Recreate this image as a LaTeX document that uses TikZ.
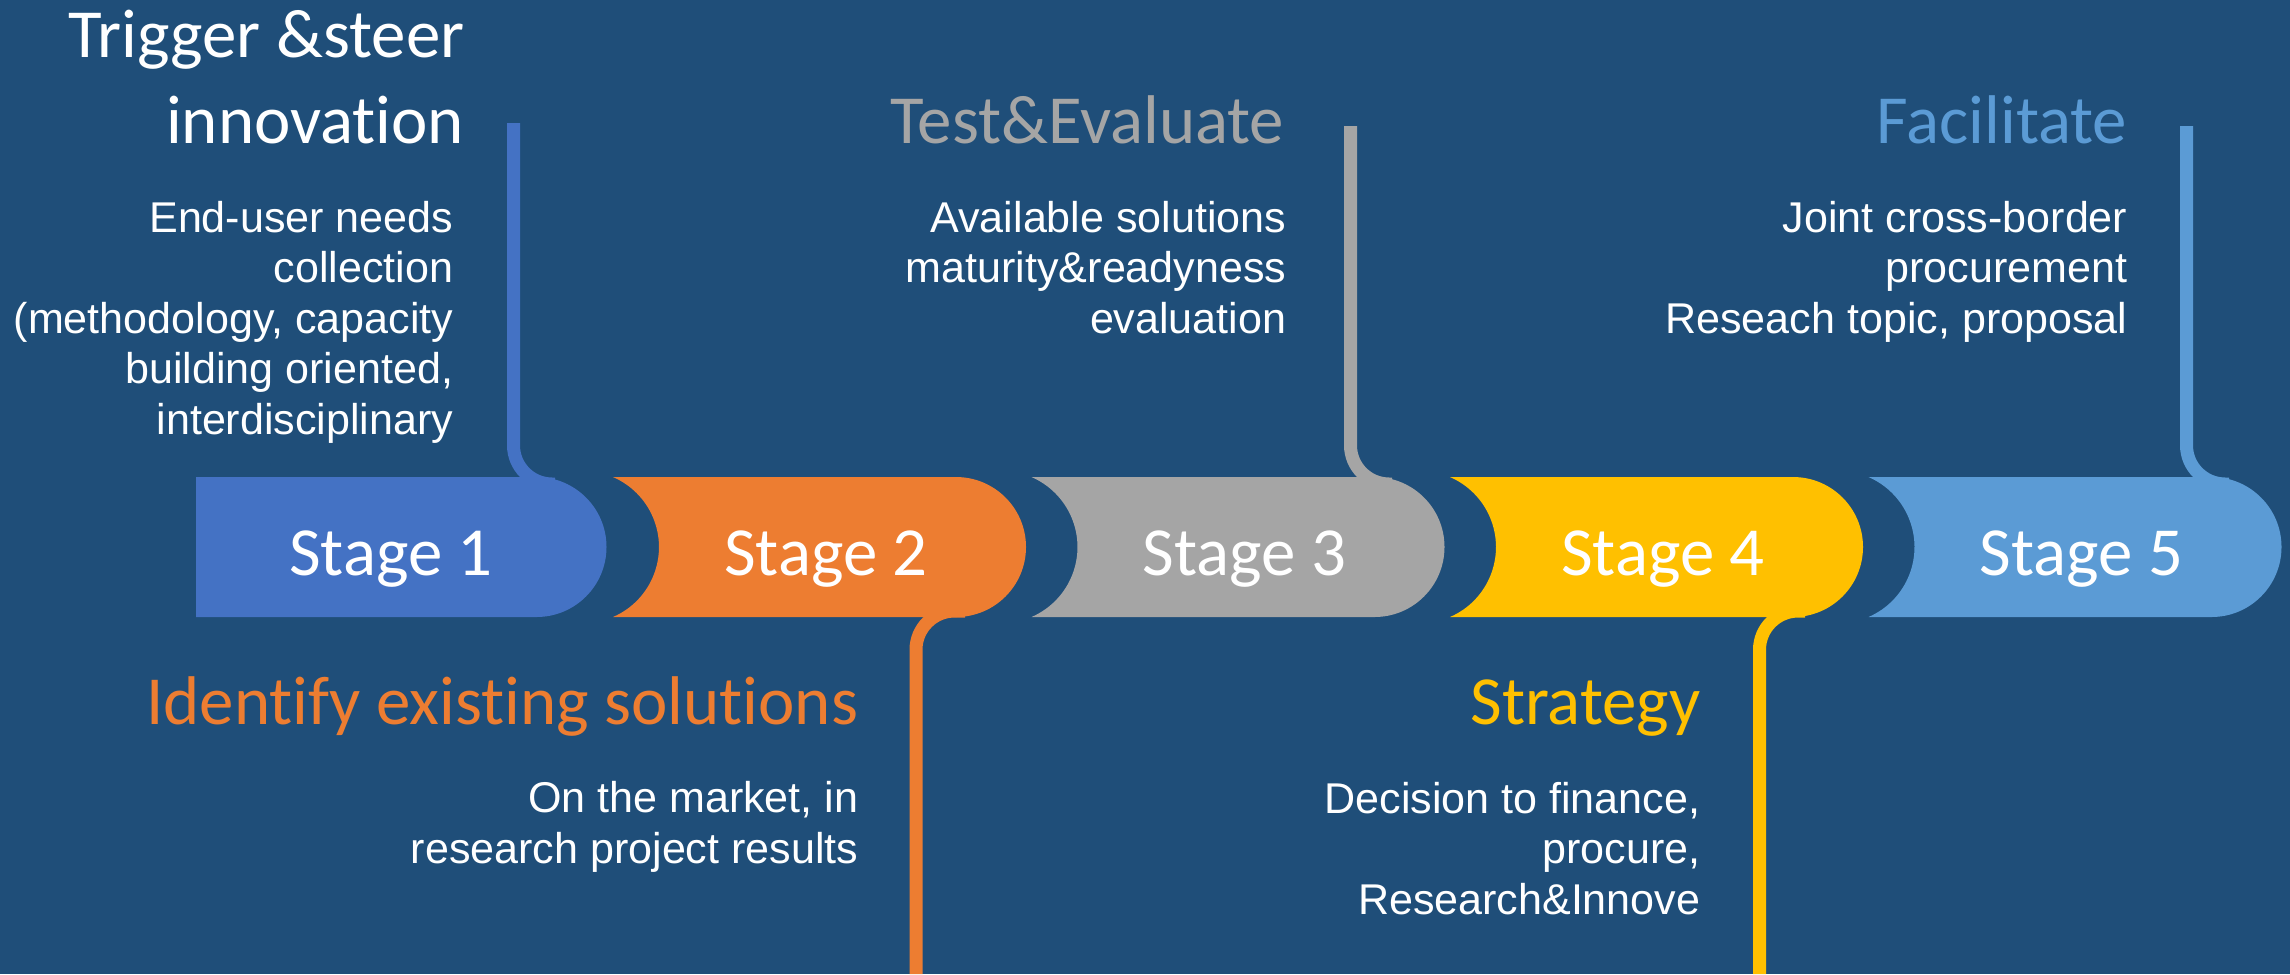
\documentclass[tikz,border=0pt]{standalone}
\usepackage{fontspec}
\setmainfont{Carlito}[Ligatures=NoCommon]
\newfontfamily\bodyfont{Liberation Sans}

\definecolor{bgblue}{HTML}{1F4E79}
\definecolor{stone}{HTML}{4472C4}
\definecolor{sttwo}{HTML}{ED7D31}
\definecolor{stthree}{HTML}{A5A5A5}
\definecolor{stfour}{HTML}{FFC000}
\definecolor{stfive}{HTML}{5B9BD5}

\tikzset{
  stagelabel/.style={text=white, inner sep=0pt, anchor=base,
    font=\fontsize{19.6}{23.5}\selectfont},
  headline/.style={inner sep=0pt, anchor=base east, align=right,
    font=\fontsize{19.6}{24.2}\selectfont},
  bodytext/.style={text=white, inner sep=0pt, anchor=base east, align=right,
    font=\bodyfont\fontsize{12.25}{14.37}\selectfont},
  stem/.style={line width=3.7pt, rounded corners=11pt},
}

\begin{document}
\begin{tikzpicture}[x=0.1mm, y=-0.1mm]
\path[use as bounding box, fill=bgblue] (0,0) rectangle (2290,974);

% Stage bars
\fill[stone] (196,477) -- (536.5,477) arc (-90:90:70) -- (196,617) -- cycle;
\node[stagelabel] (s1) at (391,575) {Stage 1};
\foreach \i/\L/\col in {2/613/sttwo, 3/1031.5/stthree, 4/1450/stfour, 5/1868.5/stfive} {
  \fill[\col] (\L,477) -- ++(343,0) arc (-90:90:70) -- (\L,617)
    arc (66.6:-66.6:76.26) -- cycle;
  \node[stagelabel] (s\i) at (\L+213,575) {Stage \i};
}

% Stems
\coordinate (top1) at (513.5,123);
\coordinate (j1) at (555,484);
\coordinate (foot2) at (916,974);
\coordinate (j2) at (965,611);
\coordinate (top3) at (1350.5,126);
\coordinate (j3) at (1392,484);
\coordinate (foot4) at (1759.5,974);
\coordinate (j4) at (1805,611);
\coordinate (top5) at (2186.5,126);
\coordinate (j5) at (2229,484);

\draw[stem, stone] (top1) |- (j1);
\draw[stem, sttwo] (foot2) |- (j2);
\draw[stem, stthree] (top3) |- (j3);
\draw[stem, stfour] (foot4) |- (j4);
\draw[stem, stfive] (top5) |- (j5);

% Headlines (anchored at the baseline of the last line)
\node[headline, text=white] (h1) at (465,143) {Trigger \&steer\\innovation};
\node[headline, text=stthree] (h3) at (1285,143) {Test\&Evaluate};
\node[headline, text=stfive] (h5) at (2128,143) {Facilitate};
\node[headline, text=sttwo] (h2) at (859,724) {Identify existing solutions};
\node[headline, text=stfour] (h4) at (1701,724) {Strategy};

% Descriptions
\node[bodytext] (b1) at (454,434) {End-user needs\\collection\\(methodology, capacity\\building oriented,\\interdisciplinary};
\node[bodytext] (b3) at (1287,333) {Available solutions\\maturity\&readyness\\evaluation};
\node[bodytext] (b5) at (2128,333) {Joint cross-border\\procurement\\Reseach topic, proposal};
\node[bodytext] (b2) at (859,863) {On the market, in\\research project results};
\node[bodytext] (b4) at (1701,914) {Decision to finance,\\procure,\\Research\&Innove};
\end{tikzpicture}
\end{document}
